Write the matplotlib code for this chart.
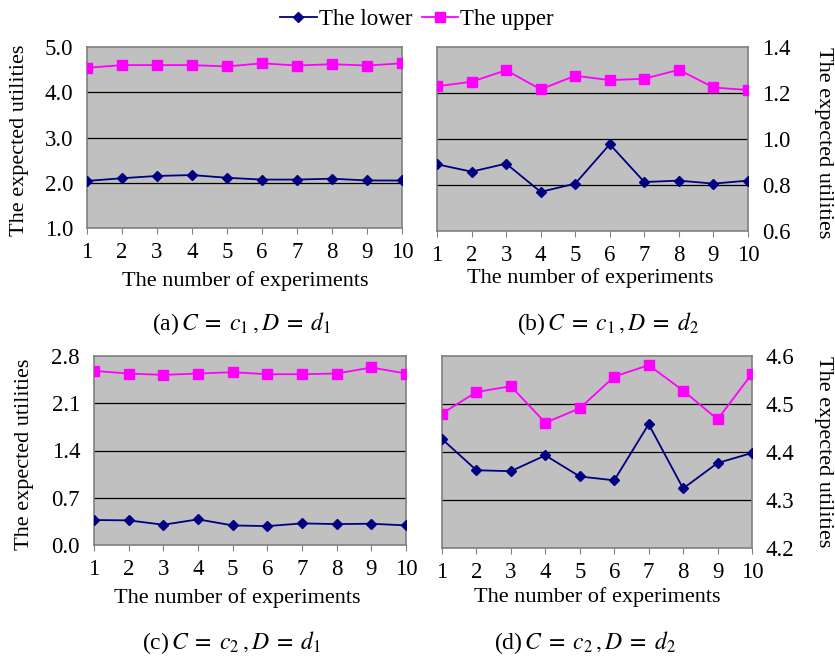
import numpy as np
import matplotlib
matplotlib.use("Agg")
import matplotlib.pyplot as plt

plt.rcParams['font.family'] = ['Liberation Serif', 'DejaVu Serif']
plt.rcParams['mathtext.fontset'] = 'stix'

experiments = list(range(1, 11))

# (a) C = c1, D = d1
lower_a = [2.04, 2.10, 2.15, 2.17, 2.11, 2.07, 2.07, 2.09, 2.05, 2.05]
upper_a = [4.54, 4.60, 4.60, 4.60, 4.57, 4.64, 4.59, 4.62, 4.59, 4.64]
# (b) C = c1, D = d2
lower_b = [0.890, 0.858, 0.893, 0.770, 0.806, 0.977, 0.813, 0.819, 0.806, 0.819]
upper_b = [1.229, 1.249, 1.299, 1.216, 1.275, 1.256, 1.262, 1.301, 1.224, 1.213]
# (c) C = c2, D = d1
lower_c = [0.37, 0.365, 0.30, 0.38, 0.29, 0.28, 0.32, 0.31, 0.315, 0.29]
upper_c = [2.58, 2.54, 2.52, 2.54, 2.56, 2.53, 2.53, 2.54, 2.63, 2.54]
# (d) C = c2, D = d2
lower_d = [4.427, 4.362, 4.360, 4.393, 4.349, 4.341, 4.458, 4.324, 4.377, 4.398]
upper_d = [4.480, 4.525, 4.537, 4.461, 4.491, 4.557, 4.581, 4.528, 4.468, 4.563]

W, H = 835, 667
fig = plt.figure(figsize=(W / 100, H / 100), dpi=100)


def box(l, r, t, b):
    return [l / W, 1 - b / H, (r - l) / W, (b - t) / H]


def panel(rect, lower, upper, yticks, ylabels, right=False):
    ax = fig.add_axes(box(*rect))
    ax.set_facecolor('#C0C0C0')
    ax.plot(experiments, lower, color='#000080', marker='D', markersize=5, lw=1.3,
            label='The lower', zorder=3)
    ax.plot(experiments, upper, color='#FF00FF', marker='s', markersize=7, lw=1.3,
            label='The upper', zorder=3)
    ax.set_xlim(1, 10)
    ax.set_ylim(yticks[0], yticks[-1])
    ax.set_xticks(experiments)
    ax.set_yticks(yticks)
    ax.set_yticklabels(ylabels)
    for y in yticks[1:-1]:
        ax.axhline(y, color='black', lw=0.9, zorder=1)
    for s in ax.spines.values():
        s.set_color('#808080')
        s.set_linewidth(1.2)
    ax.tick_params(axis='x', length=4, color='#808080', labelsize=16.5, pad=6)
    ax.tick_params(axis='y', length=0, labelsize=16.5, pad=10)
    if right:
        ax.yaxis.tick_right()
    return ax


ax_a = panel((87, 402, 47, 228), lower_a, upper_a, [1.0, 2.0, 3.0, 4.0, 5.0],
             ['1.0', '2.0', '3.0', '4.0', '5.0'])
ax_b = panel((437, 748, 47, 231), lower_b, upper_b, [0.6, 0.8, 1.0, 1.2, 1.4],
             ['0.6', '0.8', '1.0', '1.2', '1.4'], right=True)
ax_c = panel((94, 406, 356, 545), lower_c, upper_c, [0.0, 0.7, 1.4, 2.1, 2.8],
             ['0.0', '0.7', '1.4', '2.1', '2.8'])
ax_d = panel((442, 752, 356, 548), lower_d, upper_d, [4.2, 4.3, 4.4, 4.5, 4.6],
             ['4.2', '4.3', '4.4', '4.5', '4.6'], right=True)


def ftext(x, y, s, size=16, **kw):
    fig.text(x / W, 1 - y / H, s, ha='center', va='center', fontsize=size, **kw)


# x labels
ftext(245, 281, 'The number of experiments')
ftext(590, 278, 'The number of experiments')
ftext(237, 598, 'The number of experiments')
ftext(597, 597, 'The number of experiments')
# y labels
ftext(20, 140, 'The expected utilities', rotation=90)
ftext(823, 143, 'The expected utilities', rotation=-90)
ftext(25, 454, 'The expected utilities', rotation=90)
ftext(823, 452, 'The expected utilities', rotation=-90)
# subtitles
sub = r'$\,C\;=\;c_{%d}\,,D\;=\;d_{%d}$'
ftext(242, 324, '(a)' + sub % (1, 1), size=17)
ftext(608, 324, '(b)' + sub % (1, 2), size=17)
ftext(232, 643, '(c)' + sub % (2, 1), size=17)
ftext(585, 643, '(d)' + sub % (2, 2), size=17)

handles, labels = ax_a.get_legend_handles_labels()
fig.legend(handles, labels, loc='upper center', bbox_to_anchor=(417 / W, 1.018),
           ncol=2, frameon=False, fontsize=16.5, handlelength=1.6,
           handletextpad=0.1, columnspacing=0.4)

fig.savefig('out.png', dpi=100)
